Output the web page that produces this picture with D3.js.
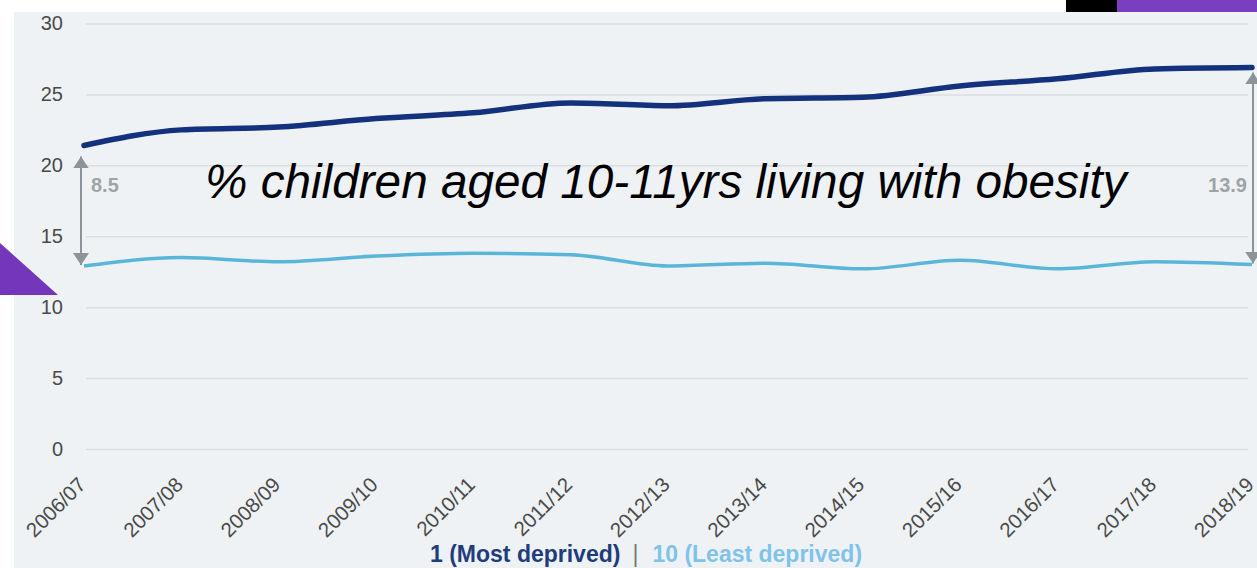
<!DOCTYPE html>
<html><head><meta charset="utf-8">
<script src="https://cdn.jsdelivr.net/npm/d3@7/dist/d3.min.js"></script>
<style>html,body{margin:0;padding:0;background:#fff;}svg{display:block;}</style>
</head><body>
<svg id="c" width="1257" height="568"></svg>
<script>
const categories = ["2006/07","2007/08","2008/09","2009/10","2010/11","2011/12","2012/13","2013/14","2014/15","2015/16","2016/17","2017/18","2018/19"];
const mostDeprived  = [21.4, 22.5, 22.7, 23.3, 23.7, 24.4, 24.2, 24.7, 24.8, 25.6, 26.1, 26.8, 26.9];
const leastDeprived = [12.9, 13.5, 13.2, 13.6, 13.8, 13.7, 12.9, 13.1, 12.7, 13.3, 12.7, 13.2, 13.0];
const yTicks = [0, 5, 10, 15, 20, 25, 30];
const titleText = "% children aged 10-11yrs living with obesity";
const legendMost = "1 (Most deprived)";
const legendLeast = "10 (Least deprived)";

const W = 1257, H = 568;
const svg = d3.select("#c");
const font = "'Liberation Sans', Arial, sans-serif";

// background panel
svg.append("rect").attr("x",14).attr("y",12).attr("width",W-14).attr("height",H-12).attr("fill","#eff2f5");
// top right decorative bars
svg.append("rect").attr("x",1066).attr("y",0).attr("width",51).attr("height",12).attr("fill","#000");
svg.append("rect").attr("x",1117).attr("y",0).attr("width",140).attr("height",12).attr("fill","#7a3ec0");

const x = d3.scalePoint().domain(categories).range([84, 1252]);
const y = d3.scaleLinear().domain([0, 30]).range([449, 23.5]);

// y axis with gridlines
const gridL = 86, gridR = 1248;
const yAxis = svg.append("g").attr("transform", `translate(${gridL},0)`)
  .call(d3.axisLeft(y).tickValues(yTicks).tickSizeInner(-(gridR-gridL)).tickSizeOuter(0).tickPadding(23).tickFormat(d3.format("d")));
yAxis.select(".domain").remove();
yAxis.selectAll(".tick line").attr("stroke","#dadde1").attr("stroke-width",1.5);
yAxis.selectAll(".tick text").attr("fill","#4a4a4a").attr("font-family",font).attr("font-size",20);

// x labels
svg.append("g").selectAll("text").data(categories).join("text")
  .attr("transform", d => `translate(${x(d)+3},${486}) rotate(-45)`)
  .attr("text-anchor","end")
  .attr("font-family",font).attr("font-size",20.5).attr("fill","#4a4a4a")
  .text(d => d);

// lines
const line = d3.line().x((d,i) => x(categories[i])).y(d => y(d)).curve(d3.curveMonotoneX);
svg.append("path").datum(leastDeprived).attr("d",line).attr("fill","none")
  .attr("stroke","#5ab6d8").attr("stroke-width",3.5).attr("stroke-linejoin","round");
svg.append("path").datum(mostDeprived).attr("d",line).attr("fill","none")
  .attr("stroke","#14317d").attr("stroke-width",5.5).attr("stroke-linejoin","round").attr("stroke-linecap","round");

// gap annotations
const defs = svg.append("defs");
defs.append("marker").attr("id","ah").attr("viewBox","0 0 12 16").attr("refX",12).attr("refY",8)
  .attr("markerWidth",12).attr("markerHeight",16).attr("markerUnits","userSpaceOnUse").attr("orient","auto-start-reverse")
  .append("path").attr("d","M0,0 L12,8 L0,16 Z").attr("fill","#8c9399");

function gap(idx, dx, topOff, label, lx, anchor){
  const cx = x(categories[idx]) + dx;
  const y1 = y(mostDeprived[idx]) + topOff;
  const y2 = y(leastDeprived[idx]) - 1;
  svg.append("line").attr("x1",cx).attr("x2",cx).attr("y1",y1).attr("y2",y2)
    .attr("stroke","#8c9399").attr("stroke-width",2)
    .attr("marker-start","url(#ah)").attr("marker-end","url(#ah)");
  svg.append("text").attr("x",lx).attr("y",y(18.1)).attr("text-anchor",anchor)
    .attr("font-family",font).attr("font-size",20).attr("font-weight","bold").attr("fill","#9ea3a8")
    .text(label);
}
const fmt = d3.format(".1f");
gap(0, -3, 11, fmt(mostDeprived[0]-leastDeprived[0]), 91, "start");
const L = categories.length-1;
gap(L, 1, 5, fmt(mostDeprived[L]-leastDeprived[L]), 1247, "end");

// title annotation
svg.append("text").attr("x",205).attr("y",198)
  .attr("font-family",font).attr("font-size",47.7).attr("font-style","italic").attr("fill","#000")
  .text(titleText);

// legend
const leg = svg.append("text").attr("x",430).attr("y",562)
  .attr("font-family",font).attr("font-size",23).attr("font-weight","bold");
leg.append("tspan").attr("fill","#1f3c7c").text(legendMost);
leg.append("tspan").attr("fill","#777").attr("font-weight","normal").attr("dx",12).text("|");
leg.append("tspan").attr("fill","#7fc3ea").attr("dx",14).text(legendLeast);

// left decorative triangle
svg.append("path").attr("d","M0,243 L58,295 L0,295 Z").attr("fill","#7437bc");
</script>
</body></html>
